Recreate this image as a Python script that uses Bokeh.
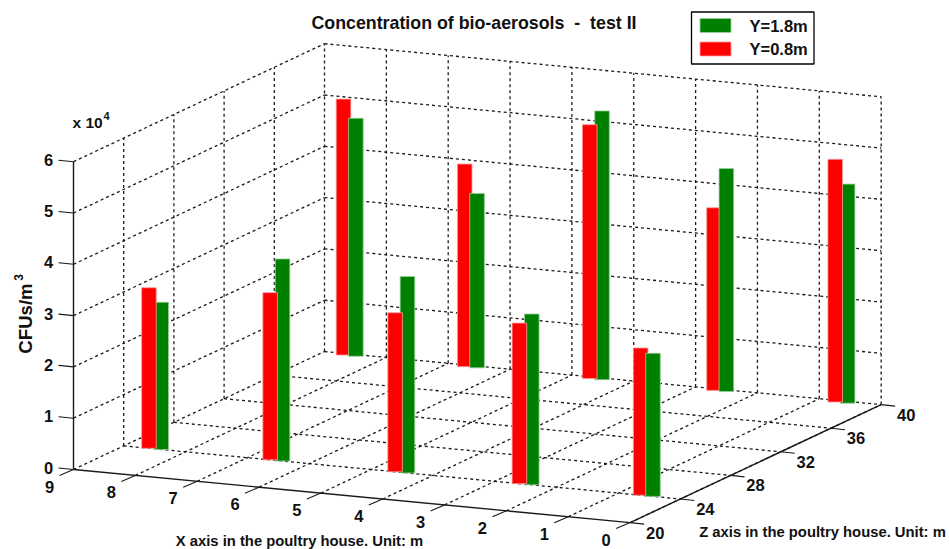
from bokeh.plotting import figure
from bokeh.models import Range1d
from bokeh.embed import file_html
from bokeh.resources import INLINE
from bokeh.core.properties import value

# ---- data (CFUs/m3, in units of 10^4) ----
x_ticks = [0, 1, 2, 3, 4, 5, 6, 7, 8, 9]
z_ticks = [20, 24, 28, 32, 36, 40]
y_ticks = [0, 1, 2, 3, 4, 5, 6]

front_z = 24
front_x = [8.71, 6.75, 4.73, 2.72, 0.76]
front_red = [3.13, 3.26, 3.10, 3.13, 2.87]
front_green = [2.87, 3.94, 3.83, 3.33, 2.79]
front_green_on_top = [False, False, False, False, True]

back_z = 39.75
back_x = [8.76, 6.80, 4.78, 2.77, 0.81]
back_red = [4.99, 3.95, 4.95, 3.56, 4.73]
back_green = [4.64, 3.40, 5.24, 4.35, 4.27]
back_green_on_top = [True, True, False, True, False]

title = "Concentration of bio-aerosols\u00a0 -\u00a0 test II"
series_names = ["Y=1.8m", "Y=0.8m"]
x_label = "X axis in the poultry house. Unit: m"
z_label = "Z axis in the poultry house. Unit: m"

RED, GREEN = "#ff0000", "#008000"
FONT = value("Liberation Sans")
INK = "#1a1a1a"

# ---- oblique 3-D projection, as in the MATLAB bar3 view ----
def proj(x, z, y=0.0):
    a, b = 9 - x, z - 20
    return 73 + 61.85 * a + 12.55 * b, 469 + 5.9 * a - 5.9 * b - 51.3 * y

W, H = 949, 549
p = figure(width=W, height=H, output_backend="svg", toolbar_location=None,
           x_range=Range1d(0, W), y_range=Range1d(H, 0),
           x_axis_type=None, y_axis_type=None, min_border=0,
           outline_line_color=None, background_fill_color="white")
p.grid.visible = False

def seg(pts, **kw):
    p.line([q[0] for q in pts], [q[1] for q in pts], line_color=INK, **kw)

def label(sx, sy, s, size=16.5, align="center", angle=0, baseline="middle"):
    p.text([sx], [sy], text=[s], text_font=FONT, text_font_style="bold",
           text_font_size=f"{size}px", text_align=align, text_baseline=baseline,
           text_color="#111111", angle=angle)

# dashed grid on the three walls
dash = dict(line_dash="3 3", line_width=1.3)
xs_g, ys_g = [], []
def add(a, b):
    xs_g.append([a[0], b[0]]); ys_g.append([a[1], b[1]])
for y in y_ticks:
    add(proj(9, 20, y), proj(9, 40, y))          # left wall
    if y > 0:
        add(proj(9, 40, y), proj(0, 40, y))      # back wall
for z in z_ticks[1:]:
    add(proj(9, z, 0), proj(9, z, 6))
    add(proj(9, z, 0), proj(0, z, 0))            # floor
for x in x_ticks[:-1]:
    add(proj(x, 40, 0), proj(x, 40, 6))
    add(proj(x, 20, 0), proj(x, 40, 0))          # floor
p.multi_line(xs_g, ys_g, line_color=INK, **dash)

# solid axes
seg([proj(9, 20, 0), proj(9, 20, 6)], line_width=1.4)
seg([proj(9, 20, 0), proj(0, 20, 0), proj(0, 40, 0)], line_width=1.4)

# ticks and their labels
for y in y_ticks:
    sx, sy = proj(9, 20, y)
    seg([(sx, sy), (sx - 15, sy - 1.5)], line_width=1.1)
    label(sx - 25, sy - 2, str(y))
for x in x_ticks:
    sx, sy = proj(x, 20)
    seg([(sx, sy), (sx - 14, sy + 6)], line_width=1.1)
    label(sx - 24, sy + 17, str(x))
for z in z_ticks:
    sx, sy = proj(0, z)
    seg([(sx, sy), (sx + 14, sy + 1.5)], line_width=1.1)
    label(sx + 25, sy + 10, str(z))

# bars
def bar(x, z, v, off, colour, edge):
    width = 0.236
    c = x - off - width / 2
    l = proj(c + width / 2, z)[0]
    r = proj(c - width / 2, z)[0]
    bottom = proj(c, z)[1]
    top = proj(c, z, v)[1]
    p.quad(left=[l], right=[r], top=[top], bottom=[bottom],
           fill_color=colour, line_color=edge, line_width=0.8)

for z, xs_, reds, greens, order in [(back_z, back_x, back_red, back_green, back_green_on_top),
                                    (front_z, front_x, front_red, front_green, front_green_on_top)]:
    for x, r, g, on_top in zip(xs_, reds, greens, order):
        if on_top:
            bar(x, z, r, 0.0, RED, "#ff9a9a")
            bar(x, z, g, 0.2, GREEN, "#9ccf9c")
        else:
            bar(x, z, g, 0.2, GREEN, "#9ccf9c")
            bar(x, z, r, 0.0, RED, "#ff9a9a")

# texts
label(473.5, 22, title, size=17.8)
label(72, 122, "x 10", size=15.5, align="left")
label(106, 115, "4", size=11)
label(25, 318, "CFUs/m", size=18.6, angle=1.5708)
label(18, 277, "3", size=12, angle=1.5708)
label(299, 540.5, x_label, size=14.8)
label(822, 531, z_label, size=14.8)

# legend
p.quad(left=[691], right=[813.5], top=[11.5], bottom=[63.5], fill_color="white",
       line_color="black", line_width=1.3)
for name, colour, edge, cy in zip(series_names, [GREEN, RED], ["#9ccf9c", "#ff9a9a"], [25, 48.5]):
    p.quad(left=[699.5], right=[730.5], top=[cy - 7], bottom=[cy + 7],
           fill_color=colour, line_color=edge, line_width=0.8)
    label(749, cy, name, size=16.5, align="left")

open("out.html", "w").write(file_html(p, INLINE))
